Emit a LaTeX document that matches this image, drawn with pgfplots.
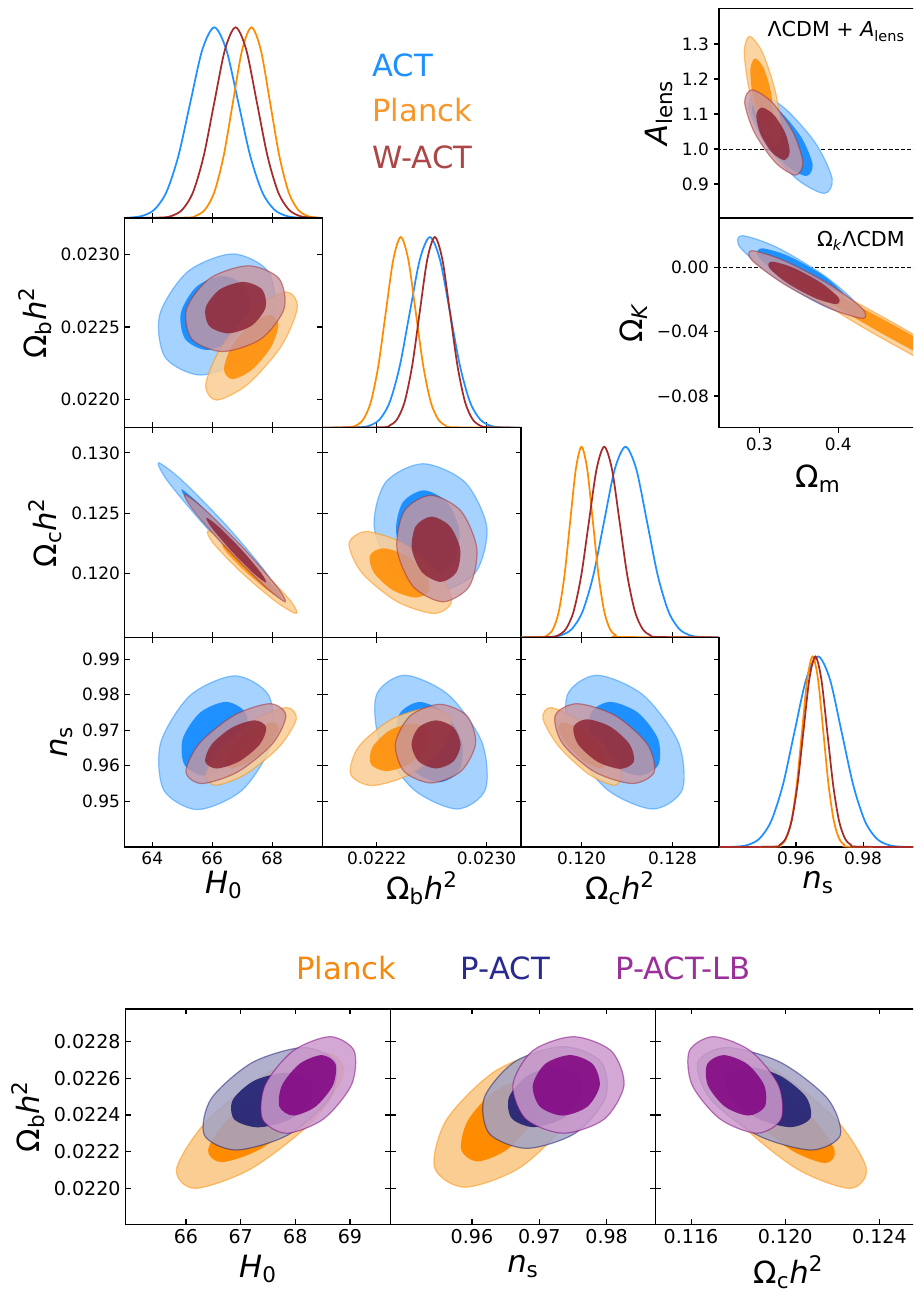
\documentclass[border=0pt]{standalone}
\usepackage{fontspec}
\setmainfont{DejaVu Sans}
\usepackage{pgfplots}
\pgfplotsset{compat=1.18}
\definecolor{actc}{HTML}{1E90FF}
\definecolor{actL}{HTML}{A5D2FF}
\definecolor{plc}{HTML}{FF8C00}
\definecolor{plL}{HTML}{FACD93}
\definecolor{wac}{HTML}{A52A2A}
\definecolor{wacI}{HTML}{8E2637}
\definecolor{waL}{HTML}{C896A0}
\definecolor{pac}{HTML}{191970}
\definecolor{paL}{HTML}{A3A3C6}
\definecolor{lbc}{HTML}{800080}
\definecolor{lbL}{HTML}{CC99CC}
\definecolor{plleg}{HTML}{F7962A}
\definecolor{waleg}{HTML}{AD4646}
\definecolor{plleg2}{HTML}{F5890F}
\definecolor{paleg}{HTML}{2A2A8E}
\definecolor{lbleg}{HTML}{9B309B}
\pgfplotsset{
  base/.style={scale only axis, anchor=south west, scaled ticks=false,
    axis line style={line width=0.9pt, black},
    major tick style={line width=0.8pt, black}, major tick length=4pt,
    minor tick num=0, tick align=inside,
    xticklabels={}, yticklabels={}},
  tri/.style={base, width=148.575pt, height=157.275pt,
    tick label style={font=\fontsize{12.75}{15}\selectfont},
    label style={font=\fontsize{23}{27}\selectfont},
    xlabel style={yshift=2pt}},
  bot/.style={base, width=198.9pt, height=161.475pt,
    tick label style={font=\fontsize{14.3}{17}\selectfont},
    label style={font=\fontsize{23}{27}\selectfont},
    xlabel style={yshift=-2pt}},
  oned/.style={tri, axis y line=none, axis x line*=bottom, ymin=0, ymax=1.1, ytick=\empty},
  cO/.style n args={3}{smooth cycle, fill=#1, fill opacity=#3, draw=#2, draw opacity=0.5, line width=0.9pt},
  cI/.style n args={2}{smooth cycle, fill=#1, fill opacity=#2, draw=none},
  cd/.style={smooth, color=#1, line width=1.3pt},
}
\begin{document}
\begin{tikzpicture}
\useasboundingbox (0pt,0pt) rectangle (684.75pt,968.25pt);
\clip (0pt,0pt) rectangle (684.75pt,968.25pt);

% ---------- H0 1D ----------
\begin{axis}[oned, at={(93.525pt,804.75pt)}, xmin=63.08, xmax=69.69, xtick={64,66,68}]
\addplot[cd=actc] coordinates {(63.08,0) (63.27,0.0022) (63.67,0.0111) (64.07,0.0439) (64.47,0.1353) (64.87,0.3247) (65.27,0.6065) (65.67,0.8825) (66.07,1) (66.47,0.8825) (66.87,0.6065) (67.27,0.3247) (67.67,0.1353) (68.07,0.0439) (68.47,0.0111) (68.87,0.0022) (69.69,0)};
\addplot[cd=plc] coordinates {(63.08,0) (65.14,0.0022) (65.45,0.0111) (65.76,0.0439) (66.07,0.1353) (66.38,0.3247) (66.69,0.6065) (67.00,0.8825) (67.31,1) (67.62,0.8825) (67.93,0.6065) (68.24,0.3247) (68.55,0.1353) (68.86,0.0439) (69.17,0.0111) (69.48,0.0022) (69.69,0)};
\addplot[cd=wac] coordinates {(63.08,0) (64.295,0.0022) (64.65,0.0111) (65.005,0.0439) (65.36,0.1353) (65.715,0.3247) (66.07,0.6065) (66.425,0.8825) (66.78,1) (67.135,0.8825) (67.49,0.6065) (67.845,0.3247) (68.2,0.1353) (68.555,0.0439) (68.91,0.0111) (69.265,0.0022) (69.69,0)};
\end{axis}

% ---------- A: Obh2 vs H0 ----------
\begin{axis}[tri, at={(93.525pt,647.475pt)}, xmin=63.08, xmax=69.69, ymin=0.021807, ymax=0.02325,
  xtick={64,66,68}, ytick={0.022,0.0225,0.023}, yticklabels={0.0220,0.0225,0.0230},
  ylabel={Ω\textsubscript{b}\textit{h}\textsuperscript{2}}]
\addplot[cO={actL}{actc}{1}] coordinates {(66.683,0.023003) (67.870,0.022881) (68.050,0.022586) (67.117,0.022291) (65.617,0.022169) (64.430,0.022291) (64.250,0.022586) (65.183,0.022881)};
\addplot[cI={actc}{1}] coordinates {(66.357,0.022852) (67.083,0.022777) (67.227,0.022597) (66.705,0.022417) (65.823,0.022342) (65.097,0.022417) (64.953,0.022597) (65.475,0.022777)};
\addplot[cO={plL}{plc}{0.85}] coordinates {(68.480,0.022741) (68.840,0.022632) (68.306,0.022369) (67.190,0.022106) (66.146,0.021997) (65.786,0.022106) (66.320,0.022369) (67.436,0.022632)};
\addplot[cI={plc}{0.85}] coordinates {(67.923,0.022583) (68.209,0.022518) (67.963,0.022362) (67.328,0.022206) (66.677,0.022141) (66.391,0.022206) (66.637,0.022362) (67.272,0.022518)};
\addplot[cO={waL}{wac}{0.8}] coordinates {(67.200,0.022921) (68.225,0.022835) (68.400,0.022626) (67.622,0.022417) (66.346,0.022331) (65.321,0.022417) (65.146,0.022626) (65.924,0.022835)};
\addplot[cI={wacI}{0.85}] coordinates {(67.033,0.022810) (67.666,0.022758) (67.780,0.022633) (67.308,0.022508) (66.527,0.022456) (65.894,0.022508) (65.780,0.022633) (66.252,0.022758)};
\end{axis}

% ---------- Obh2 1D ----------
\begin{axis}[oned, at={(242.1pt,647.475pt)}, xmin=0.021807, xmax=0.02325, xtick={0.0222,0.023}]
\addplot[cd=actc] coordinates {(0.021807,0) (0.022076,0.0022) (0.022149,0.0111) (0.022222,0.0439) (0.022295,0.1353) (0.022368,0.3247) (0.022441,0.6065) (0.022514,0.8825) (0.022587,1) (0.02266,0.8825) (0.022733,0.6065) (0.022806,0.3247) (0.022879,0.1353) (0.022952,0.0439) (0.023025,0.0111) (0.023098,0.0022) (0.02325,0)};
\addplot[cd=plc] coordinates {(0.021807,0) (0.0219935,0.0022) (0.022048,0.0111) (0.0221025,0.0439) (0.022157,0.1353) (0.0222115,0.3247) (0.022266,0.6065) (0.0223205,0.8825) (0.022375,1) (0.0224295,0.8825) (0.022484,0.6065) (0.0225385,0.3247) (0.022593,0.1353) (0.0226475,0.0439) (0.022702,0.0111) (0.0227565,0.0022) (0.02325,0)};
\addplot[cd=wac] coordinates {(0.021807,0) (0.022238,0.0022) (0.022293,0.0111) (0.022348,0.0439) (0.022403,0.1353) (0.022458,0.3247) (0.022513,0.6065) (0.022568,0.8825) (0.022623,1) (0.022678,0.8825) (0.022733,0.6065) (0.022788,0.3247) (0.022843,0.1353) (0.022898,0.0439) (0.022953,0.0111) (0.023008,0.0022) (0.02325,0)};
\end{axis}

% ---------- B: Och2 vs H0 ----------
\begin{axis}[tri, at={(93.525pt,490.2pt)}, xmin=63.08, xmax=69.69, ymin=0.11467, ymax=0.13209,
  xtick={64,66,68}, ytick={0.12,0.125,0.13}, yticklabels={0.120,0.125,0.130},
  ylabel={Ω\textsubscript{c}\textit{h}\textsuperscript{2}}]
\addplot[cO={actL}{actc}{1}] coordinates {(64.210,0.129179) (65.035,0.127620) (66.513,0.123856) (67.778,0.120092) (68.090,0.118533) (67.265,0.120092) (65.787,0.123856) (64.522,0.127620)};
\addplot[cI={actc}{1}] coordinates {(64.974,0.126966) (65.544,0.125812) (66.620,0.123027) (67.571,0.120242) (67.840,0.119088) (67.270,0.120242) (66.194,0.123027) (65.243,0.125812)};
\addplot[cO={plL}{plc}{0.85}] coordinates {(65.860,0.123508) (66.550,0.122505) (67.697,0.120083) (68.629,0.117661) (68.800,0.116658) (68.110,0.117661) (66.963,0.120083) (66.031,0.122505)};
\addplot[cI={plc}{0.85}] coordinates {(66.347,0.122405) (66.790,0.121749) (67.543,0.120166) (68.166,0.118583) (68.293,0.117927) (67.850,0.118583) (67.097,0.120166) (66.474,0.121749)};
\addplot[cO={waL}{wac}{0.8}] coordinates {(65.080,0.126551) (65.771,0.125244) (67.040,0.122090) (68.143,0.118936) (68.434,0.117629) (67.743,0.118936) (66.474,0.122090) (65.371,0.125244)};
\addplot[cI={wacI}{0.85}] coordinates {(65.807,0.124619) (66.230,0.123830) (66.987,0.121924) (67.634,0.120018) (67.793,0.119229) (67.370,0.120018) (66.613,0.121924) (65.966,0.123830)};
\end{axis}

% ---------- C: Och2 vs Obh2 ----------
\begin{axis}[tri, at={(242.1pt,490.2pt)}, xmin=0.021807, xmax=0.02325, ymin=0.11467, ymax=0.13209,
  xtick={0.0222,0.023}, ytick={0.12,0.125,0.13}]
\addplot[cO={actL}{actc}{1}] coordinates {(0.022538,0.129096) (0.022844,0.127549) (0.023002,0.123814) (0.022920,0.120079) (0.022646,0.118532) (0.022340,0.120079) (0.022182,0.123814) (0.022264,0.127549)};
\addplot[cI={actc}{1}] coordinates {(0.022543,0.126883) (0.022715,0.125863) (0.022803,0.123400) (0.022756,0.120937) (0.022601,0.119917) (0.022429,0.120937) (0.022341,0.123400) (0.022388,0.125863)};
\addplot[cO={plL}{plc}{0.85}] coordinates {(0.022125,0.123458) (0.022396,0.122462) (0.022652,0.120058) (0.022744,0.117654) (0.022617,0.116658) (0.022346,0.117654) (0.022090,0.120058) (0.021998,0.122462)};
\addplot[cI={plc}{0.85}] coordinates {(0.022246,0.122073) (0.022413,0.121473) (0.022552,0.120025) (0.022582,0.118577) (0.022486,0.117977) (0.022319,0.118577) (0.022180,0.120025) (0.022150,0.121473)};
\addplot[cO={waL}{wac}{0.8}] coordinates {(0.022594,0.126468) (0.022813,0.125173) (0.022929,0.122048) (0.022875,0.118923) (0.022682,0.117628) (0.022463,0.118923) (0.022347,0.122048) (0.022401,0.125173)};
\addplot[cI={wacI}{0.85}] coordinates {(0.022599,0.124701) (0.022733,0.123907) (0.022808,0.121990) (0.022780,0.120073) (0.022665,0.119279) (0.022531,0.120073) (0.022456,0.121990) (0.022484,0.123907)};
\end{axis}

% ---------- Och2 1D ----------
\begin{axis}[oned, at={(390.675pt,490.2pt)}, xmin=0.11467, xmax=0.13209, xtick={0.12,0.128}]
\addplot[cd=actc] coordinates {(0.11467,0) (0.117255,0.0022) (0.1182,0.0111) (0.119145,0.0439) (0.12009,0.1353) (0.121035,0.3247) (0.12198,0.6065) (0.122925,0.8825) (0.12387,1) (0.124815,0.8825) (0.12576,0.6065) (0.126705,0.3247) (0.12765,0.1353) (0.128595,0.0439) (0.12954,0.0111) (0.130485,0.0022) (0.13209,0)};
\addplot[cd=plc] coordinates {(0.11467,0) (0.1165,0.0022) (0.117,0.0111) (0.1175,0.0439) (0.118,0.1353) (0.1185,0.3247) (0.119,0.6065) (0.1195,0.8825) (0.12,1) (0.1205,0.8825) (0.121,0.6065) (0.1215,0.3247) (0.122,0.1353) (0.1225,0.0439) (0.123,0.0111) (0.1235,0.0022) (0.13209,0)};
\addplot[cd=wac] coordinates {(0.11467,0) (0.117275,0.0022) (0.11795,0.0111) (0.118625,0.0439) (0.1193,0.1353) (0.119975,0.3247) (0.12065,0.6065) (0.121325,0.8825) (0.122,1) (0.122675,0.8825) (0.12335,0.6065) (0.124025,0.3247) (0.1247,0.1353) (0.125375,0.0439) (0.12605,0.0111) (0.126725,0.0022) (0.13209,0)};
\end{axis}

% ---------- D: ns vs H0 ----------
\begin{axis}[tri, at={(93.525pt,332.925pt)}, xmin=63.08, xmax=69.69, ymin=0.93705, ymax=0.9961,
  xtick={64,66,68}, xticklabels={64,66,68}, ytick={0.95,0.96,0.97,0.98,0.99}, yticklabels={0.95,0.96,0.97,0.98,0.99},
  xlabel={\textit{H}\textsubscript{0}}, ylabel={\textit{n}\textsubscript{s}}]
\addplot[cO={actL}{actc}{1}] coordinates {(66.756,0.98528) (67.884,0.97976) (67.986,0.96644) (67.003,0.95312) (65.510,0.94760) (64.382,0.95312) (64.280,0.96644) (65.263,0.97976)};
\addplot[cI={actc}{1}] coordinates {(66.457,0.97794) (67.108,0.97490) (67.163,0.96757) (66.589,0.96024) (65.723,0.95720) (65.072,0.96024) (65.017,0.96757) (65.591,0.97490)};
\addplot[cO={plL}{plc}{0.85}] coordinates {(68.480,0.97633) (68.805,0.97313) (68.247,0.96540) (67.132,0.95767) (66.114,0.95447) (65.789,0.95767) (66.347,0.96540) (67.462,0.97313)};
\addplot[cI={plc}{0.85}] coordinates {(68.030,0.97218) (68.226,0.97028) (67.897,0.96568) (67.236,0.96108) (66.630,0.95918) (66.434,0.96108) (66.763,0.96568) (67.424,0.97028)};
\addplot[cO={waL}{wac}{0.8}] coordinates {(67.923,0.97743) (68.456,0.97414) (68.013,0.96619) (66.854,0.95824) (65.657,0.95495) (65.124,0.95824) (65.567,0.96619) (66.726,0.97414)};
\addplot[cI={wacI}{0.85}] coordinates {(67.423,0.97274) (67.803,0.97075) (67.586,0.96596) (66.898,0.96117) (66.143,0.95918) (65.763,0.96117) (65.980,0.96596) (66.668,0.97075)};
\end{axis}

% ---------- E: ns vs Obh2 ----------
\begin{axis}[tri, at={(242.1pt,332.925pt)}, xmin=0.021807, xmax=0.02325, ymin=0.93705, ymax=0.9961,
  xtick={0.0222,0.023}, xticklabels={0.0222,0.0230}, ytick={0.95,0.96,0.97,0.98,0.99},
  xlabel={Ω\textsubscript{b}\textit{h}\textsuperscript{2}}]
\addplot[cO={actL}{actc}{1}] coordinates {(0.022404,0.98545) (0.022722,0.97993) (0.022966,0.96661) (0.022992,0.95329) (0.022786,0.94777) (0.022468,0.95329) (0.022224,0.96661) (0.022198,0.97993)};
\addplot[cI={actc}{1}] coordinates {(0.022513,0.97791) (0.022701,0.97460) (0.022820,0.96661) (0.022801,0.95862) (0.022655,0.95531) (0.022467,0.95862) (0.022348,0.96661) (0.022367,0.97460)};
\addplot[cO={plL}{plc}{0.85}] coordinates {(0.022586,0.97624) (0.022742,0.97304) (0.022684,0.96531) (0.022445,0.95758) (0.022166,0.95438) (0.022010,0.95758) (0.022068,0.96531) (0.022307,0.97304)};
\addplot[cI={plc}{0.85}] coordinates {(0.022463,0.97189) (0.022575,0.96992) (0.022564,0.96517) (0.022437,0.96042) (0.022269,0.95845) (0.022157,0.96042) (0.022168,0.96517) (0.022295,0.96992)};
\addplot[cO={waL}{wac}{0.8}] coordinates {(0.022659,0.97726) (0.022857,0.97402) (0.022920,0.96619) (0.022812,0.95836) (0.022597,0.95512) (0.022399,0.95836) (0.022336,0.96619) (0.022444,0.97402)};
\addplot[cI={wacI}{0.85}] coordinates {(0.022632,0.97274) (0.022759,0.97075) (0.022811,0.96596) (0.022759,0.96117) (0.022632,0.95918) (0.022505,0.96117) (0.022453,0.96596) (0.022505,0.97075)};
\end{axis}

% ---------- F: ns vs Och2 ----------
\begin{axis}[tri, at={(390.675pt,332.925pt)}, xmin=0.11467, xmax=0.13209, ymin=0.93705, ymax=0.9961,
  xtick={0.12,0.128}, xticklabels={0.120,0.128}, ytick={0.95,0.96,0.97,0.98,0.99},
  xlabel={Ω\textsubscript{c}\textit{h}\textsuperscript{2}}]
\addplot[cO={actL}{actc}{1}] coordinates {(0.121354,0.98545) (0.125394,0.97993) (0.128509,0.96661) (0.128874,0.95329) (0.126276,0.94777) (0.122236,0.95329) (0.119121,0.96661) (0.118756,0.97993)};
\addplot[cI={actc}{1}] coordinates {(0.122523,0.97794) (0.124960,0.97490) (0.126717,0.96757) (0.126764,0.96024) (0.125073,0.95720) (0.122636,0.96024) (0.120879,0.96757) (0.120832,0.97490)};
\addplot[cO={plL}{plc}{0.85}] coordinates {(0.117249,0.97633) (0.119534,0.97313) (0.122128,0.96540) (0.123512,0.95767) (0.122875,0.95447) (0.120590,0.95767) (0.117996,0.96540) (0.116612,0.97313)};
\addplot[cI={plc}{0.85}] coordinates {(0.118390,0.97218) (0.119793,0.97028) (0.121352,0.96568) (0.122154,0.96108) (0.121730,0.95918) (0.120327,0.96108) (0.118768,0.96568) (0.117966,0.97028)};
\addplot[cO={waL}{wac}{0.8}] coordinates {(0.119596,0.97743) (0.122935,0.97414) (0.125750,0.96619) (0.126392,0.95824) (0.124484,0.95495) (0.121145,0.95824) (0.118330,0.96619) (0.117688,0.97414)};
\addplot[cI={wacI}{0.85}] coordinates {(0.120475,0.97303) (0.122511,0.97099) (0.124220,0.96605) (0.124600,0.96111) (0.123429,0.95907) (0.121393,0.96111) (0.119684,0.96605) (0.119304,0.97099)};
\end{axis}

% ---------- ns 1D ----------
\begin{axis}[oned, at={(539.25pt,332.925pt)}, xmin=0.93705, xmax=0.9961, xtick={0.96,0.98}, xticklabels={0.96,0.98},
  xlabel={\textit{n}\textsubscript{s}}]
\addplot[cd=actc] coordinates {(0.93705,0) (0.94207,0.0022) (0.94557,0.0111) (0.94907,0.0439) (0.95257,0.1353) (0.95607,0.3247) (0.95957,0.6065) (0.96307,0.8825) (0.96657,1) (0.97007,0.8825) (0.97357,0.6065) (0.97707,0.3247) (0.98057,0.1353) (0.98407,0.0439) (0.98757,0.0111) (0.99107,0.0022) (0.9961,0)};
\addplot[cd=plc] coordinates {(0.93705,0) (0.953865,0.0022) (0.95545,0.0111) (0.957035,0.0439) (0.95862,0.1353) (0.960205,0.3247) (0.96179,0.6065) (0.963375,0.8825) (0.96496,1) (0.966545,0.8825) (0.96813,0.6065) (0.969715,0.3247) (0.9713,0.1353) (0.972885,0.0439) (0.97447,0.0111) (0.976055,0.0022) (0.9961,0)};
\addplot[cd=wac] coordinates {(0.93705,0) (0.953335,0.0022) (0.95511,0.0111) (0.956885,0.0439) (0.95866,0.1353) (0.960435,0.3247) (0.96221,0.6065) (0.963985,0.8825) (0.96576,1) (0.967535,0.8825) (0.96931,0.6065) (0.971085,0.3247) (0.97286,0.1353) (0.974635,0.0439) (0.97641,0.0111) (0.978185,0.0022) (0.9961,0)};
\end{axis}

% ---------- G: Alens vs Om ----------
\begin{axis}[tri, at={(539.25pt,804.75pt)}, xmin=0.249, xmax=0.4998, ymin=0.803, ymax=1.402,
  tick align=outside, ytick pos=left, xtick=\empty,
  ytick={0.9,1.0,1.1,1.2,1.3}, yticklabels={0.9,1.0,1.1,1.2,1.3},
  ylabel={\textit{A}\textsubscript{lens}}]
\addplot[black, line width=0.6pt, dash pattern=on 3pt off 1.6pt] coordinates {(0.2,1) (0.6,1)};
\addplot[cO={actL}{actc}{1}] coordinates {(0.29709,1.15845) (0.33210,1.11666) (0.37152,1.01576) (0.39225,0.91486) (0.38215,0.87307) (0.34714,0.91486) (0.30772,1.01576) (0.28699,1.11666)};
\addplot[cI={actc}{1}] coordinates {(0.29911,1.14240) (0.32508,1.11026) (0.35341,1.03266) (0.36751,0.95506) (0.35911,0.92292) (0.33314,0.95506) (0.30481,1.03266) (0.29071,1.11026)};
\addplot[cO={plL}{plc}{0.85}] coordinates {(0.28772,1.32207) (0.30409,1.27549) (0.32051,1.16304) (0.32737,1.05059) (0.32064,1.00401) (0.30427,1.05059) (0.28785,1.16304) (0.28099,1.27549)};
\addplot[cI={plc}{0.85}] coordinates {(0.29494,1.25902) (0.30569,1.23074) (0.31481,1.16246) (0.31696,1.09418) (0.31088,1.06590) (0.30013,1.09418) (0.29101,1.16246) (0.28886,1.23074)};
\addplot[cO={waL}{wac}{0.8}] coordinates {(0.29075,1.16906) (0.31620,1.13339) (0.34291,1.04728) (0.35523,0.96117) (0.34595,0.92550) (0.32050,0.96117) (0.29379,1.04728) (0.28147,1.13339)};
\addplot[cI={wacI}{0.85}] coordinates {(0.30342,1.11862) (0.31878,1.09663) (0.33329,1.04355) (0.33846,0.99047) (0.33126,0.96848) (0.31591,0.99047) (0.30139,1.04355) (0.29622,1.09663)};
\end{axis}

% ---------- H: OmegaK vs Om ----------
\begin{axis}[tri, at={(539.25pt,647.475pt)}, xmin=0.249, xmax=0.4998, ymin=-0.0997, ymax=0.0307,
  tick align=outside, ytick pos=left, xtick pos=left,
  xtick={0.3,0.4}, xticklabels={0.3,0.4},
  ytick={-0.08,-0.04,0}, yticklabels={−0.08,−0.04,0.00},
  xlabel style={yshift=-6pt},
  xlabel={Ω\textsubscript{m}}, ylabel={Ω\textsubscript{\textit{K}}}]
\addplot[black, line width=0.6pt, dash pattern=on 3pt off 1.6pt] coordinates {(0.2,0) (0.6,0)};
\addplot[cO={actL}{actc}{1}] coordinates {(0.27810,0.01972) (0.32236,0.01240) (0.38266,-0.00529) (0.42368,-0.02298) (0.42140,-0.03030) (0.37714,-0.02298) (0.31684,-0.00529) (0.27582,0.01240)};
\addplot[cI={actc}{1}] coordinates {(0.30342,0.01182) (0.33732,0.00696) (0.38013,-0.00479) (0.40677,-0.01654) (0.40164,-0.02140) (0.36774,-0.01654) (0.32493,-0.00479) (0.29829,0.00696)};
\addplot[cO={plL}{plc}{0.85}] coordinates {(0.31979,0.00144) (0.37845,-0.01041) (0.48569,-0.03900) (0.57870,-0.06760) (0.60299,-0.07944) (0.54433,-0.06760) (0.43709,-0.03900) (0.34408,-0.01041)};
\addplot[cI={plc}{0.85}] coordinates {(0.33399,-0.00292) (0.38555,-0.01385) (0.48599,-0.04025) (0.57647,-0.06665) (0.60399,-0.07758) (0.55243,-0.06665) (0.45199,-0.04025) (0.36151,-0.01385)};
\addplot[cO={waL}{wac}{0.8}] coordinates {(0.29076,0.01033) (0.33140,0.00417) (0.38924,-0.01070) (0.43040,-0.02557) (0.43076,-0.03173) (0.39012,-0.02557) (0.33228,-0.01070) (0.29113,0.00417)};
\addplot[cI={wacI}{0.85}] coordinates {(0.31608,0.00355) (0.34325,-0.00031) (0.37823,-0.00964) (0.40053,-0.01897) (0.39708,-0.02283) (0.36991,-0.01897) (0.33493,-0.00964) (0.31263,-0.00031)};
\end{axis}

% ---------- Bottom I: Obh2 vs H0 ----------
\begin{axis}[bot, at={(93.975pt,50.025pt)}, xmin=64.89, xmax=69.741, ymin=0.021807, ymax=0.022975,
  xtick={66,67,68,69}, xticklabels={66,67,68,69},
  ytick={0.022,0.0222,0.0224,0.0226,0.0228}, yticklabels={0.0220,0.0222,0.0224,0.0226,0.0228},
  xlabel={\textit{H}\textsubscript{0}}, ylabel={Ω\textsubscript{b}\textit{h}\textsuperscript{2}}]
\addplot[cO={plL}{plc}{1}] coordinates {(68.543,0.022736) (68.880,0.022629) (68.323,0.022369) (67.198,0.022109) (66.165,0.022002) (65.828,0.022109) (66.385,0.022369) (67.510,0.022629)};
\addplot[cI={plc}{1}] coordinates {(68.113,0.022590) (68.358,0.022525) (68.030,0.022367) (67.322,0.022209) (66.649,0.022144) (66.404,0.022209) (66.732,0.022367) (67.440,0.022525)};
\addplot[cO={paL}{pac}{0.85}] coordinates {(68.159,0.022766) (68.738,0.022685) (68.614,0.022488) (67.859,0.022291) (66.915,0.022210) (66.336,0.022291) (66.460,0.022488) (67.215,0.022685)};
\addplot[cI={pac}{0.85}] coordinates {(67.829,0.022629) (68.262,0.022586) (68.292,0.022481) (67.900,0.022376) (67.317,0.022333) (66.884,0.022376) (66.854,0.022481) (67.246,0.022586)};
\addplot[cO={lbL}{lbc}{0.85}] coordinates {(68.634,0.022825) (69.076,0.022748) (69.027,0.022563) (68.515,0.022378) (67.840,0.022301) (67.398,0.022378) (67.447,0.022563) (67.959,0.022748)};
\addplot[cI={lbc}{0.85}] coordinates {(68.482,0.022725) (68.735,0.022677) (68.688,0.022561) (68.368,0.022445) (67.962,0.022397) (67.709,0.022445) (67.756,0.022561) (68.076,0.022677)};
\end{axis}

% ---------- Bottom J: Obh2 vs ns ----------
\begin{axis}[bot, at={(292.725pt,50.025pt)}, xmin=0.94787, xmax=0.98726, ymin=0.021807, ymax=0.022975,
  xtick={0.96,0.97,0.98}, xticklabels={0.96,0.97,0.98},
  ytick={0.022,0.0222,0.0224,0.0226,0.0228},
  xlabel={\textit{n}\textsubscript{s}}]
\addplot[cO={plL}{plc}{1}] coordinates {(0.971585,0.022744) (0.976121,0.022636) (0.974303,0.022376) (0.967195,0.022116) (0.958961,0.022008) (0.954425,0.022116) (0.956243,0.022376) (0.963351,0.022636)};
\addplot[cI={plc}{1}] coordinates {(0.967574,0.022590) (0.970010,0.022525) (0.969045,0.022369) (0.965243,0.022213) (0.960832,0.022148) (0.958396,0.022213) (0.959361,0.022369) (0.963163,0.022525)};
\addplot[cO={paL}{pac}{0.85}] coordinates {(0.973560,0.022771) (0.979128,0.022690) (0.979842,0.022495) (0.975284,0.022300) (0.968124,0.022219) (0.962556,0.022300) (0.961842,0.022495) (0.966400,0.022690)};
\addplot[cI={pac}{0.85}] coordinates {(0.972580,0.022662) (0.975886,0.022614) (0.976263,0.022498) (0.973491,0.022382) (0.969194,0.022334) (0.965888,0.022382) (0.965511,0.022498) (0.968283,0.022614)};
\addplot[cO={lbL}{lbc}{0.85}] coordinates {(0.975045,0.022825) (0.980675,0.022748) (0.982590,0.022563) (0.979667,0.022378) (0.973619,0.022301) (0.967989,0.022378) (0.966074,0.022563) (0.968997,0.022748)};
\addplot[cI={lbc}{0.85}] coordinates {(0.974556,0.022725) (0.977913,0.022677) (0.978981,0.022561) (0.977135,0.022445) (0.973456,0.022397) (0.970099,0.022445) (0.969031,0.022561) (0.970877,0.022677)};
\end{axis}

% ---------- Bottom K: Obh2 vs Och2 ----------
\begin{axis}[bot, at={(491.775pt,50.025pt)}, xmin=0.1145, xmax=0.125761, ymin=0.021807, ymax=0.022975,
  xtick={0.116,0.12,0.124}, xticklabels={0.116,0.120,0.124},
  ytick={0.022,0.0222,0.0224,0.0226,0.0228},
  xlabel={Ω\textsubscript{c}\textit{h}\textsuperscript{2}}]
\addplot[cO={plL}{plc}{1}] coordinates {(0.117380,0.022744) (0.119659,0.022635) (0.122170,0.022373) (0.123442,0.022111) (0.122730,0.022002) (0.120451,0.022111) (0.117940,0.022373) (0.116668,0.022635)};
\addplot[cI={plc}{1}] coordinates {(0.118301,0.022595) (0.119700,0.022528) (0.121274,0.022367) (0.122102,0.022206) (0.121699,0.022139) (0.120300,0.022206) (0.118726,0.022367) (0.117898,0.022528)};
\addplot[cO={paL}{pac}{0.85}] coordinates {(0.117524,0.022766) (0.119811,0.022685) (0.121805,0.022488) (0.122339,0.022291) (0.121100,0.022210) (0.118813,0.022291) (0.116819,0.022488) (0.116285,0.022685)};
\addplot[cI={pac}{0.85}] coordinates {(0.118374,0.022662) (0.119768,0.022614) (0.120883,0.022498) (0.121065,0.022382) (0.120208,0.022334) (0.118814,0.022382) (0.117699,0.022498) (0.117517,0.022614)};
\addplot[cO={lbL}{lbc}{0.85}] coordinates {(0.116956,0.022825) (0.118523,0.022748) (0.119711,0.022563) (0.119825,0.022378) (0.118798,0.022301) (0.117231,0.022378) (0.116043,0.022563) (0.115929,0.022748)};
\addplot[cI={lbc}{0.85}] coordinates {(0.117380,0.022725) (0.118382,0.022677) (0.119108,0.022561) (0.119133,0.022445) (0.118442,0.022397) (0.117440,0.022445) (0.116714,0.022561) (0.116689,0.022677)};
\end{axis}

% ---------- legends and panel titles ----------
\node[anchor=base west, text=actc, font=\fontsize{23}{27}\selectfont, inner sep=0pt] at (279pt,910.5pt) {ACT};
\node[anchor=base west, text=plleg, font=\fontsize{23}{27}\selectfont, inner sep=0pt] at (279pt,876.75pt) {Planck};
\node[anchor=base west, text=waleg, font=\fontsize{23}{27}\selectfont, inner sep=0pt] at (279pt,842pt) {W-ACT};
\node[anchor=base west, text=plleg2, font=\fontsize{23}{27}\selectfont, inner sep=0pt] at (222pt,233.8pt) {Planck};
\node[anchor=base west, text=paleg, font=\fontsize{23}{27}\selectfont, inner sep=0pt] at (345.5pt,233.8pt) {P-ACT};
\node[anchor=base west, text=lbleg, font=\fontsize{23}{27}\selectfont, inner sep=0pt] at (461.25pt,233.8pt) {P-ACT-LB};
\node[anchor=base east, font=\fontsize{15.5}{18}\selectfont, inner sep=0pt] at (678.75pt,940.7pt) {ΛCDM + \textit{A}\textsubscript{lens}};
\node[anchor=base east, font=\fontsize{15.5}{18}\selectfont, inner sep=0pt] at (678.75pt,783.3pt) {Ω\textsubscript{\textit{k}}ΛCDM};
\end{tikzpicture}
\end{document}
